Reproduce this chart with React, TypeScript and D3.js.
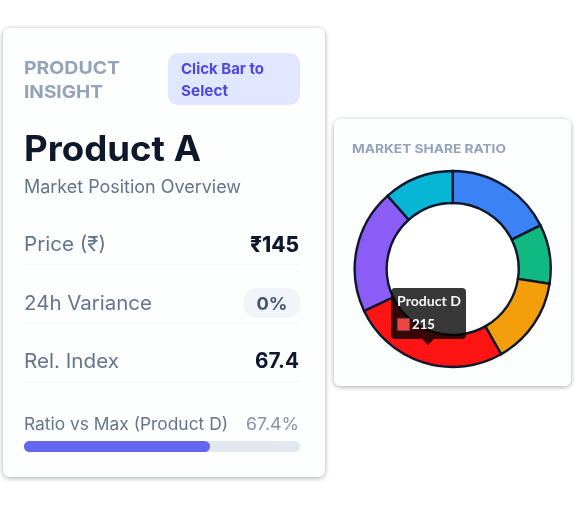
import * as d3 from 'd3';
import React from 'react';

const products = ['Product A', 'Product B', 'Product C', 'Product D', 'Product E', 'Product F'];
const shares = [145, 80, 118, 215, 168, 95];
const sliceColors = ['#3b82f6', '#10b981', '#f59e0b', '#ff1414', '#8b5cf6', '#06b6d4'];
const ratioPercent = 67.4;

const font = "Inter, 'Noto Sans', sans-serif";
const width = 585;
const height = 505;

const pie = d3.pie<number>().sort(null)(shares);
const arc = d3.arc<d3.PieArcDatum<number>>().innerRadius(66).outerRadius(98);
const barScale = d3.scaleLinear().domain([0, 100]).range([0, 276]);

const Label = ({ x, y, size, fill, w, weight = 400, anchor = 'start', children }: any) => (
    <text
        x={x}
        y={y}
        fontFamily={font}
        fontSize={size}
        fontWeight={weight}
        fill={fill}
        textAnchor={anchor}
        textLength={w}
        lengthAdjust="spacingAndGlyphs"
    >
        {children}
    </text>
);

export default function App() {
    const rows = [265, 323, 382];
    return (
        <svg width={width} height={height} style={{ position: 'absolute', left: 0, top: 0 }}>
            <defs>
                <filter id="shadow" x="-10%" y="-10%" width="120%" height="120%">
                    <feDropShadow dx="0" dy="1" stdDeviation="2.5" floodColor="#000" floodOpacity="0.35" />
                </filter>
            </defs>

            <rect x={3} y={28} width={322} height={449} rx={7} fill="#fdfefe" filter="url(#shadow)" />
            <Label x={24} y={74} size={18} weight={700} fill="#94a3b8" w={96}>PRODUCT</Label>
            <Label x={24} y={98} size={18} weight={700} fill="#94a3b8" w={79}>INSIGHT</Label>
            <rect x={168} y={53} width={132} height={52} rx={10} fill="#e0e7ff" />
            <Label x={181} y={74} size={15} weight={700} fill="#4f46e5" w={83}>Click Bar to</Label>
            <Label x={181} y={96} size={15} weight={700} fill="#4f46e5" w={47}>Select</Label>
            <Label x={24} y={161} size={35} weight={700} fill="#0f172a" w={177}>Product A</Label>
            <Label x={24} y={193} size={18} fill="#64748b" w={217}>Market Position Overview</Label>

            <Label x={24} y={251} size={20} fill="#64748b" w={82}>Price (₹)</Label>
            <Label x={299} y={252} size={21} weight={800} fill="#0f172a" anchor="end" w={49}>₹145</Label>
            <Label x={24} y={310} size={20} fill="#64748b" w={128}>24h Variance</Label>
            <rect x={244} y={288} width={56} height={30} rx={12} fill="#f1f5f9" />
            <Label x={272} y={310} size={18} weight={700} fill="#475569" anchor="middle" w={31}>0%</Label>
            <Label x={24} y={368} size={20} fill="#64748b" w={95}>Rel. Index</Label>
            <Label x={299} y={368} size={21} weight={700} fill="#0f172a" anchor="end" w={44}>67.4</Label>
            {rows.map((y) => (
                <line key={y} x1={24} x2={300} y1={y} y2={y} stroke="#f1f5f9" />
            ))}

            <Label x={24} y={430} size={17} fill="#64748b" w={204}>Ratio vs Max (Product D)</Label>
            <Label x={299} y={430} size={17} fill="#8493a8" anchor="end" w={53}>{`${ratioPercent}%`}</Label>
            <rect x={24} y={441} width={barScale(100)} height={11} rx={5.5} fill="#e2e8f0" />
            <rect x={24} y={441} width={barScale(ratioPercent)} height={11} rx={5.5} fill="#6366f1" />

            <rect x={334} y={119} width={237} height={267} rx={7} fill="#fdfefe" filter="url(#shadow)" />
            <Label x={352} y={153} size={12} weight={700} fill="#94a3b8" w={154}>MARKET SHARE RATIO</Label>
            <g transform="translate(452.7,269)">
                <circle r={66} fill="#fff" />
                {pie.map((d, i) => (
                    <path key={products[i]} d={arc(d)!} fill={sliceColors[i]} stroke="#0f172a" strokeWidth={2.4} />
                ))}
            </g>

            <g>
                <g style={{ mixBlendMode: 'multiply' }} fill="#383838">
                    <rect x={391} y={288} width={75} height={51} rx={4} />
                    <path d={d3.line()([[422, 339], [434, 339], [428, 345]])!} />
                </g>
                <text x={397} y={306} fontFamily="Lato, sans-serif" fontSize={14} fontWeight={700} fill="#f5f5f5" textLength={64} lengthAdjust="spacingAndGlyphs">
                    {products[3]}
                </text>
                <rect x={397} y={318} width={13} height={13} fill="#ef4444" stroke="#1e293b" />
                <text x={412} y={329} fontFamily="Lato, sans-serif" fontSize={14} fontWeight={700} fill="#fff" textLength={23} lengthAdjust="spacingAndGlyphs">
                    {shares[3]}
                </text>
            </g>
        </svg>
    );
}
